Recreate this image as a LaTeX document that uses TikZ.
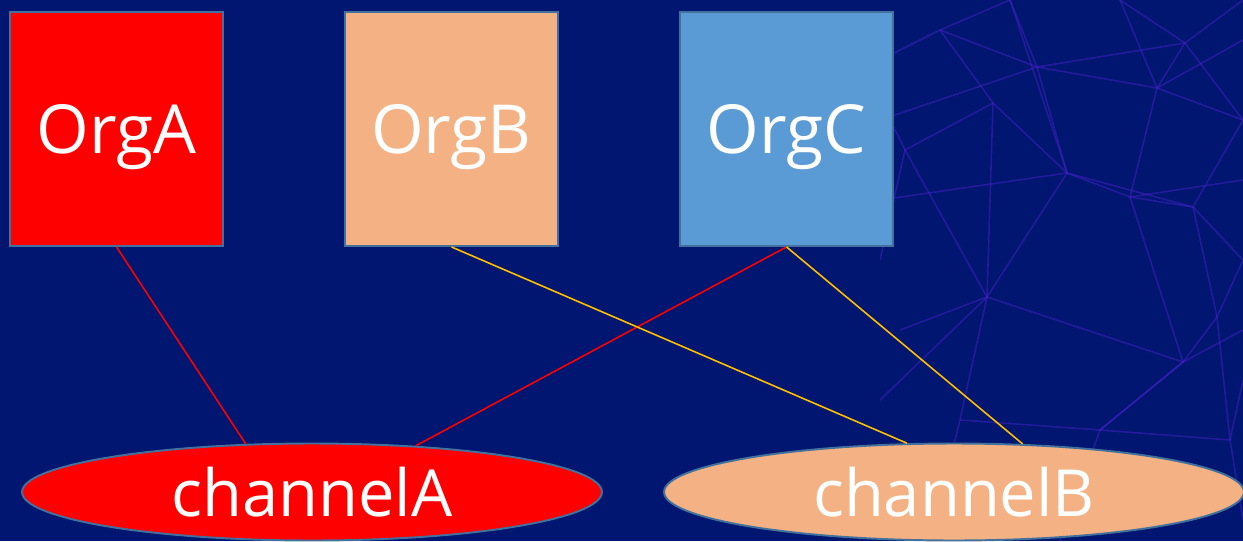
\documentclass[tikz,border=0pt]{standalone}
\usepackage{fontspec}
\setmainfont{Open Sans}
\usetikzlibrary{shapes.geometric}
\definecolor{slide}{RGB}{0,22,112}
\definecolor{web}{RGB}{70,32,200}
\definecolor{edge}{RGB}{65,113,156}
\definecolor{orgred}{RGB}{255,0,0}
\definecolor{orgpeach}{RGB}{244,177,131}
\definecolor{orgblue}{RGB}{91,155,213}
\definecolor{linkgold}{RGB}{255,192,0}
\tikzset{
  orgbox/.style={draw=edge, line width=1.1pt, minimum width=4.26cm, minimum height=4.68cm,
    inner sep=0pt, text=white, font=\fontsize{38.5}{42}\selectfont, text depth=0pt},
  chanshape/.style={ellipse, draw=edge, line width=1.1pt, minimum width=11.6cm, minimum height=1.94cm,
    inner sep=0pt, text=white, font=\fontsize{37}{40}\selectfont},
  redlink/.style={draw=orgred, line width=0.9pt},
  goldlink/.style={draw=linkgold, line width=0.9pt},
  webline/.style={draw=web, line width=0.9pt, opacity=0.5}
}
\begin{document}
\begin{tikzpicture}[x=0.02cm, y=-0.02cm]
  % slide background
  \fill[slide] (0,0) rectangle (1243,541);
  \useasboundingbox (0,0) rectangle (1243,541);
  % faint network texture on the right
  \begin{scope}
    \clip (880,0) rectangle (1243,541);
    \foreach \a/\b in {
      {(940,30)}/{(1037,67)}, {(940,30)}/{(993,103)}, {(1037,67)}/{(1185,43)},
      {(1037,67)}/{(1157,88)}, {(1037,67)}/{(1067,173)}, {(1185,43)}/{(1157,88)},
      {(1185,43)}/{(1243,120)}, {(1157,88)}/{(1130,197)}, {(1157,88)}/{(1243,120)},
      {(993,103)}/{(1067,173)}, {(993,103)}/{(987,297)}, {(993,103)}/{(905,150)},
      {(1067,173)}/{(1130,197)}, {(1067,173)}/{(987,297)}, {(1130,197)}/{(1193,207)},
      {(1193,207)}/{(1217,317)}, {(1193,207)}/{(1243,120)}, {(987,297)}/{(1183,362)},
      {(1130,197)}/{(1183,362)}, {(1217,317)}/{(1183,362)}, {(1183,362)}/{(1100,430)},
      {(1217,317)}/{(1230,440)}, {(987,297)}/{(960,420)}, {(960,420)}/{(1100,430)},
      {(1100,430)}/{(1230,440)}, {(1243,260)}/{(1217,317)}, {(1243,260)}/{(1193,207)},
      {(1010,0)}/{(1037,67)}, {(1120,0)}/{(1185,43)}, {(1120,0)}/{(1157,88)},
      {(905,150)}/{(987,297)}, {(1010,0)}/{(940,30)}, {(905,150)}/{(880,260)},
      {(987,297)}/{(900,330)}, {(1100,430)}/{(1060,541)}, {(1230,440)}/{(1243,520)},
      {(1243,0)}/{(1185,43)}, {(1067,173)}/{(1193,207)}, {(880,60)}/{(940,30)},
      {(880,120)}/{(1037,67)}, {(1243,40)}/{(1157,88)}, {(880,200)}/{(1067,173)},
      {(880,400)}/{(987,297)}, {(1243,330)}/{(1183,362)}, {(1243,180)}/{(1130,197)},
      {(960,420)}/{(930,541)}, {(1100,430)}/{(1183,362)}, {(1243,380)}/{(1230,440)},
      {(1067,173)}/{(1010,0)}, {(905,150)}/{(880,100)}}
      \draw[webline] \a -- \b;
  \end{scope}

  % organisations
  \node[orgbox, fill=orgred]   (orgA) at (116.5,129) {OrgA};
  \node[orgbox, fill=orgpeach] (orgB) at (451.5,129) {OrgB};
  \node[orgbox, fill=orgblue]  (orgC) at (786.5,129) {OrgC};

  % channels
  \node[chanshape, fill=orgred]   (chA) at (312,492) {channelA};
  \node[chanshape, fill=orgpeach] (chB) at (954,492) {channelB};

  % memberships
  \draw[redlink]  (orgA.south) -- (chA.144);
  \draw[redlink]  (orgC.south) -- (chA.24);
  \draw[goldlink] (orgB.south) -- (chB.134);
  \draw[goldlink] (orgC.south) -- (chB.35);
\end{tikzpicture}
\end{document}
